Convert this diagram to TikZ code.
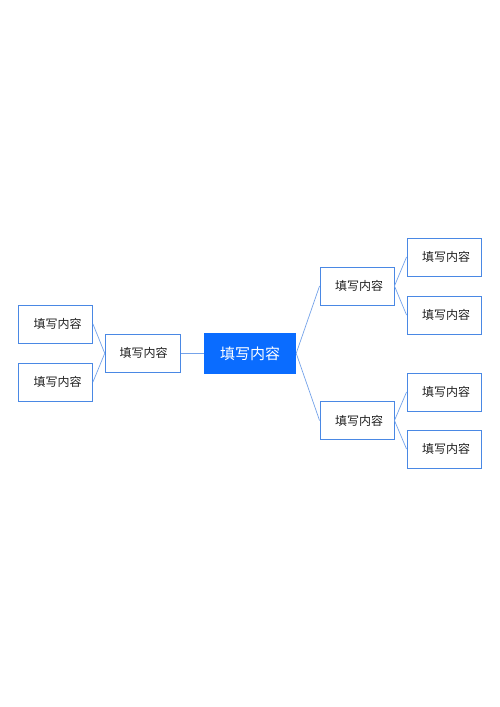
\documentclass[tikz,border=0pt]{standalone}
\usepackage{fontspec}
\newfontfamily\cjk{Noto Sans CJK SC}
\definecolor{boxblue}{HTML}{4A88E4}
\definecolor{lineblue}{HTML}{75A3EA}
\definecolor{rootblue}{HTML}{0A6CFF}
\definecolor{txtgray}{HTML}{222222}
\tikzset{
  leaf/.style={draw=boxblue,line width=0.9pt,fill=white,minimum width=74pt,minimum height=38pt,
    inner sep=0pt,font=\cjk\fontsize{12}{14}\selectfont,text=txtgray},
  root/.style={fill=rootblue,minimum width=92pt,minimum height=41pt,inner sep=0pt,
    font=\cjk\fontsize{15}{17}\selectfont,text=white},
  link/.style={draw=lineblue,line width=0.7pt}
}
\begin{document}
\begin{tikzpicture}[x=1pt,y=-1pt]
					\useasboundingbox[fill=white](0,0) rectangle (500,707);
					\node (c) at (250,353.3)[root]{填写内容};
					\node (lm) at (142.7,353.3)[leaf,minimum width=75pt]{\hspace{2pt}填写内容};
					\node (lt) at (55.5,324)[leaf]{\hspace{4pt}填写内容};
					\node (lb) at (55.5,382)[leaf]{\hspace{4pt}填写内容};
					
					\node (rt) at (357,286)[leaf]{\hspace{4pt}填写内容};
					\node (rb) at (357,420.5)[leaf]{\hspace{4pt}填写内容};
					\node (r1) at (444,257)[leaf]{\hspace{4pt}填写内容};
					\node (r2) at (444,315)[leaf]{\hspace{4pt}填写内容};
					\node (r3) at (444,392)[leaf]{\hspace{4pt}填写内容};
					\node (r4) at (444,449)[leaf]{\hspace{4pt}填写内容};
					
					\draw [link](c.west)--(lm.east);
					\draw [link](lm.west)--(lt.east);
					\draw [link](lm.west)--(lb.east);
					\draw [link](c.east)--(rt.west);
					\draw [link](c.east)--(rb.west);
					\draw [link](rt.east)--(r1.west);
					\draw [link](rt.east)--(r2.west);
					\draw [link](rb.east)--(r3.west);
					\draw [link](rb.east)--(r4.west);
				\end{tikzpicture}
\end{document}
